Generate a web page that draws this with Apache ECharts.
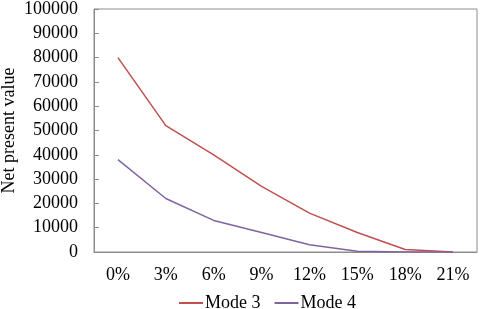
<!DOCTYPE html>
<html><head><meta charset="utf-8">
<script src="https://cdn.jsdelivr.net/npm/echarts@6/dist/echarts.min.js"></script>
<style>html,body{margin:0;padding:0;background:#fff}#c{width:480px;height:309px}</style>
</head><body><div id="c"></div>
<script>
const categories = ['0%','3%','6%','9%','12%','15%','18%','21%'];
const mode3 = [80000, 52000, 40000, 27000, 16000, 8000, 1000, 0];
const mode4 = [38000, 22000, 13000, 8000, 3000, 300, 0, 0];
const yTicks = [0, 10000, 20000, 30000, 40000, 50000, 60000, 70000, 80000, 90000, 100000];

const font = 'Liberation Serif, Times New Roman, serif';
const fs = 18;
const chart = echarts.init(document.getElementById('c'), null, {renderer:'canvas'});
chart.setOption({
  animation: false,
  textStyle: {fontFamily: font},
  grid: {left: 94, right: 3, top: 9, bottom: 57, show: true, borderColor: '#8c8c8c', borderWidth: 1, containLabel: false, outerBoundsMode: 'none'},
  legend: {
    top: 289, left: 174,
    itemWidth: 24, itemHeight: 2, itemGap: 14,
    icon: 'rect',
    textStyle: {fontFamily: font, fontSize: fs, color: '#000', padding: [0,0,0,-3]},
    data: ['Mode 3', 'Mode 4']
  },
  xAxis: {
    type: 'category', data: categories, boundaryGap: true,
    axisLine: {lineStyle: {color: '#8c8c8c'}},
    axisTick: {inside: true, length: 4, lineStyle: {color: '#8c8c8c'}},
    axisLabel: {fontFamily: font, fontSize: fs, color: '#000', margin: 14}
  },
  yAxis: {
    type: 'value', min: yTicks[0], max: yTicks[yTicks.length-1], interval: yTicks[1]-yTicks[0],
    name: 'Net present value', nameLocation: 'middle', nameGap: 76, nameMoveOverlap: false,
    nameTextStyle: {fontFamily: font, fontSize: fs, color: '#000'},
    splitLine: {show: false},
    axisLine: {show: true, lineStyle: {color: '#8c8c8c'}},
    axisTick: {show: true, inside: true, length: 5, lineStyle: {color: '#8c8c8c'}},
    axisLabel: {fontFamily: font, fontSize: fs, color: '#000', margin: 16, formatter: v => String(v)}
  },
  series: [
    {name: 'Mode 3', type: 'line', data: mode3, symbol: 'none', lineStyle: {color: '#c0504d', width: 1.5}, itemStyle: {color: '#c0504d'}},
    {name: 'Mode 4', type: 'line', data: mode4, symbol: 'none', lineStyle: {color: '#8064a2', width: 1.5}, itemStyle: {color: '#8064a2'}}
  ]
});
</script></body></html>
